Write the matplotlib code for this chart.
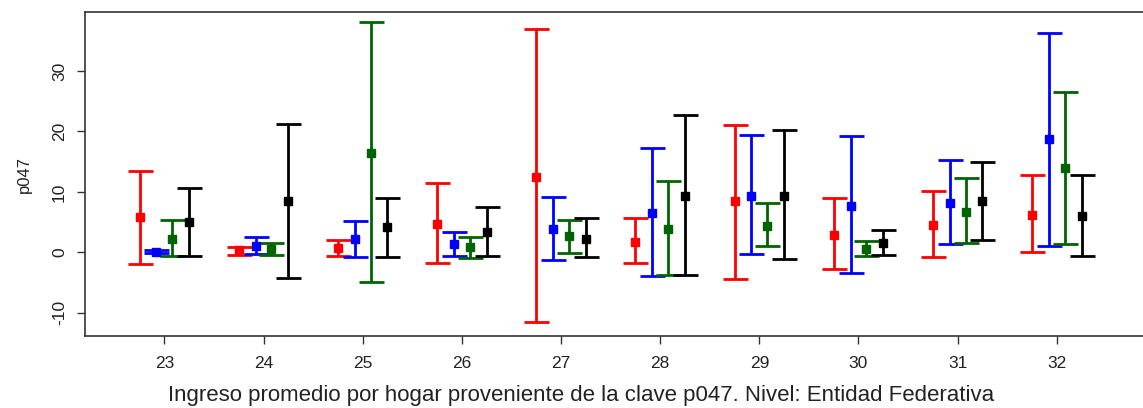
import matplotlib.pyplot as plt
import numpy as np

plt.rcParams['font.family'] = ['Liberation Sans', 'DejaVu Sans']

entidades = [23, 24, 25, 26, 27, 28, 29, 30, 31, 32]

# series: point estimate, lower bound, upper bound
rojo_est = [5.8, 0.3, 0.7, 4.6, 12.4, 1.7, 8.4, 2.9, 4.5, 6.2]
rojo_lo = [-2.0, -0.4, -0.7, -1.8, -11.6, -1.8, -4.4, -2.7, -0.8, 0.1]
rojo_hi = [13.4, 0.8, 2.1, 11.4, 36.9, 5.6, 21.1, 8.9, 10.1, 12.8]

azul_est = [0.1, 1.1, 2.2, 1.3, 3.8, 6.5, 9.3, 7.6, 8.2, 18.7]
azul_lo = [-0.2, -0.3, -0.8, -0.6, -1.3, -3.9, -0.3, -3.4, 1.3, 1.1]
azul_hi = [0.4, 2.6, 5.2, 3.3, 9.2, 17.3, 19.4, 19.3, 15.2, 36.3]

verde_est = [2.2, 0.5, 16.5, 0.8, 2.7, 3.8, 4.3, 0.5, 6.7, 13.9]
verde_lo = [-0.6, -0.4, -4.9, -0.9, -0.2, -3.7, 1.1, -0.7, 1.6, 1.3]
verde_hi = [5.4, 1.6, 38.1, 2.6, 5.4, 11.8, 8.1, 1.9, 12.3, 26.6]

negro_est = [5.0, 8.4, 4.1, 3.4, 2.2, 9.3, 9.3, 1.5, 8.4, 6.0]
negro_lo = [-0.6, -4.2, -0.8, -0.6, -0.8, -3.7, -1.2, -0.4, 2.1, -0.6]
negro_hi = [10.6, 21.3, 8.9, 7.5, 5.6, 22.8, 20.2, 3.7, 14.9, 12.8]

series = [
    (rojo_est, rojo_lo, rojo_hi, '#ff0000', -0.25),
    (azul_est, azul_lo, azul_hi, '#0000ff', -0.08),
    (verde_est, verde_lo, verde_hi, '#006400', 0.08),
    (negro_est, negro_lo, negro_hi, '#000000', 0.25),
]

fig = plt.figure(figsize=(11.43, 4.08), dpi=100)
ax = fig.add_axes([0.0744, 0.176, 0.93, 0.795])

x = np.array(entidades, dtype=float)
for est, lo, hi, color, off in series:
    est = np.array(est)
    err = [est - np.array(lo), np.array(hi) - est]
    ax.errorbar(x + off, est, yerr=err, fmt='s', color=color, ecolor=color,
                markersize=5.5, elinewidth=2, capsize=9, capthick=2)

ax.set_xlim(22.2, 32.92)
ax.set_ylim(-13.9, 39.8)
ax.set_xticks(entidades)
ax.set_yticks([-10, 0, 10, 20, 30])
ax.set_yticklabels(['-10', '0', '10', '20', '30'], rotation=90, va='center')
ax.tick_params(axis='both', labelsize=12.5, length=6, width=1, color='#333333',
               labelcolor='#222222')
ax.tick_params(axis='x', pad=8)
ax.tick_params(axis='y', pad=7)
for s in ax.spines.values():
    s.set_color('#333333')
    s.set_linewidth(1.2)

ax.set_ylabel('p047', fontsize=12, color='#222222')
ax.yaxis.set_label_coords(-0.050, 0.5)
ax.set_xlabel('Ingreso promedio por hogar proveniente de la clave p047. Nivel: Entidad Federativa',
              fontsize=16, color='#222222')
ax.xaxis.set_label_coords(0.4666, -0.150)

fig.savefig('out.png', dpi=100)
